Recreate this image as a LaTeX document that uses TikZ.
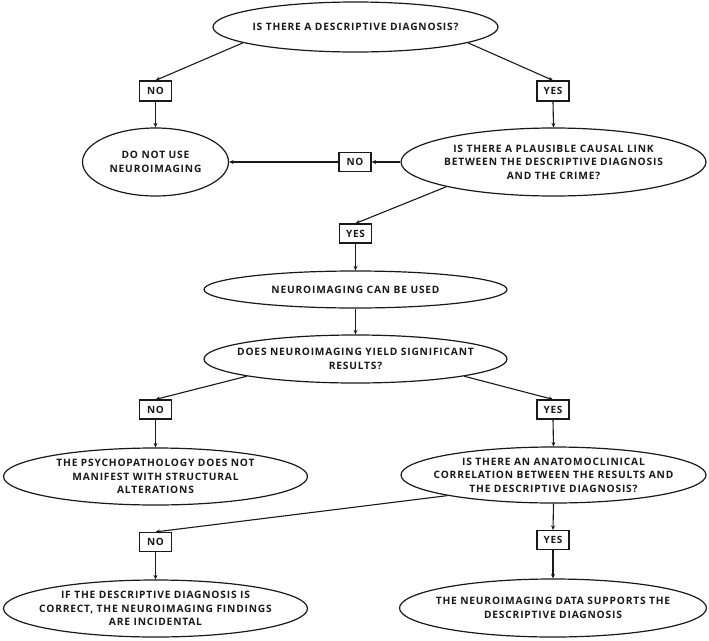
\documentclass[tikz,border=0pt]{standalone}
\usepackage{fontspec}
\setmainfont{Open Sans}[LetterSpace=8]
\usetikzlibrary{shapes.geometric,arrows.meta}
\begin{document}
\begin{tikzpicture}[x=1pt,y=-1pt,
  ell/.style={draw=black!90, line width=1.2pt, ellipse, inner sep=0pt},
  txt/.style={font=\fontsize{10.2}{13.5}\selectfont\bfseries, align=center, inner sep=0pt, text=black!90},
  lbl/.style={draw=black!90, line width=1.2pt, minimum width=32pt, minimum height=19pt, inner sep=0pt, font=\fontsize{10}{12}\selectfont\bfseries, text=black!90},
  arr/.style={draw=black!90, line width=1.1pt, -{Stealth[length=4.5pt,width=4pt]}}]
\useasboundingbox (0,0) rectangle (709,640);
% ellipses
\node[ell, minimum width=285pt, minimum height=50pt] (A) at (355.5,27) {};
\node[txt] (At) at (A) {IS THERE A DESCRIPTIVE DIAGNOSIS?};
\node[ell, minimum width=146pt, minimum height=68pt] (B) at (155.5,162) {};
\node[txt] (Bt) at (B) {DO NOT USE\\NEUROIMAGING};
\node[ell, minimum width=305pt, minimum height=68pt] (C) at (553.5,162) {};
\node[txt] (Ct) at (C) {IS THERE A PLAUSIBLE CAUSAL LINK\\BETWEEN THE DESCRIPTIVE DIAGNOSIS\\AND THE CRIME?};
\node[ell, minimum width=303pt, minimum height=37pt] (D) at (355.5,289.5) {};
\node[txt] (Dt) at (D) {NEUROIMAGING CAN BE USED};
\node[ell, minimum width=303pt, minimum height=48pt] (E) at (355.5,359) {};
\node[txt] (Et) at (E) {DOES NEUROIMAGING YIELD SIGNIFICANT\\RESULTS?};
\node[ell, minimum width=304pt, minimum height=57pt] (F) at (155.5,476.5) {};
\node[txt] (Ft) at (F) {THE PSYCHOPATHOLOGY DOES NOT\\MANIFEST WITH STRUCTURAL\\ALTERATIONS};
\node[ell, minimum width=305pt, minimum height=56pt] (G) at (553.5,475) {};
\node[txt] (Gt) at (G) {IS THERE AN ANATOMOCLINICAL\\CORRELATION BETWEEN THE RESULTS AND\\THE DESCRIPTIVE DIAGNOSIS?};
\node[ell, minimum width=304pt, minimum height=57pt] (H) at (155.5,608.5) {};
\node[txt] (Ht) at (H) {IF THE DESCRIPTIVE DIAGNOSIS IS\\CORRECT, THE NEUROIMAGING FINDINGS\\ARE INCIDENTAL};
\node[ell, minimum width=307pt, minimum height=58pt] (I) at (553,608) {};
\node[txt] (It) at (I) {THE NEUROIMAGING DATA SUPPORTS THE\\DESCRIPTIVE DIAGNOSIS};
% label boxes
\node[lbl, minimum height=20pt] (no1) at (155.5,91) {NO};
\node[lbl, minimum height=20pt] (yes1) at (553,91) {YES};
\node[lbl] (no2) at (355,162) {NO};
\node[lbl] (yes2) at (355.5,233.5) {YES};
\node[lbl] (no3) at (155.5,409.5) {NO};
\node[lbl] (yes3) at (553,409.5) {YES};
\node[lbl] (no4) at (155.5,542) {NO};
\node[lbl] (yes4) at (553,540) {YES};
% connectors
\draw[arr] (A.188) -- (no1.north);
\draw[arr] (A.352) -- (yes1.north);
\draw[arr] (no1.south) -- (B.north);
\draw[arr] (yes1.south) -- (C.north);
\draw[arr] (C.west) -- (no2.east);
\draw[arr] (no2.west) -- (B.east);
\draw[arr] (C.193) -- (yes2.north);
\draw[arr] (yes2.south) -- (D.north);
\draw[arr] (D.south) -- (E.north);
\draw[arr] (E.189) -- (no3.north);
\draw[arr] (E.351) -- (yes3.north);
\draw[arr] (no3.south) -- (F.north);
\draw[arr] (yes3.south) -- (G.north);
\draw[arr] (G.191) -- (no4.north);
\draw[arr] (G.south) -- (yes4.north);
\draw[arr] (no4.south) -- (H.north);
\draw[arr] (yes4.south) -- (I.north);
\end{tikzpicture}
\end{document}
